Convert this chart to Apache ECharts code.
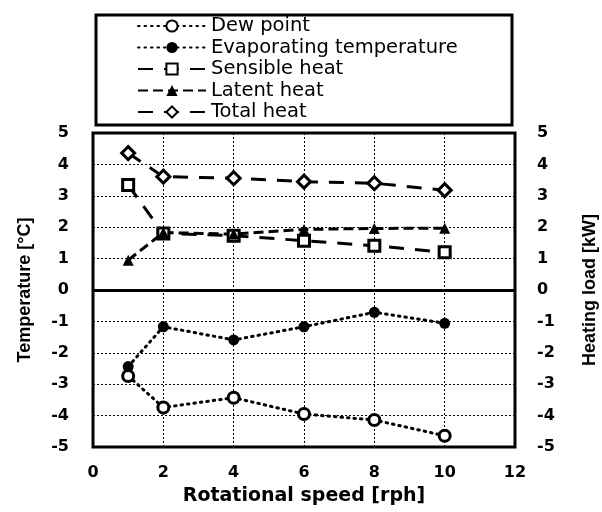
<!DOCTYPE html>
<html>
<head>
<meta charset="utf-8">
<script src="https://cdn.jsdelivr.net/npm/echarts@6/dist/echarts.min.js"></script>
<style>
  html, body { margin: 0; padding: 0; background: #fff; }
  #main { width: 602px; height: 512px; }
</style>
</head>
<body>
<div id="main"></div>
<script>
// rotational speed [rph]
const speeds = [1, 2, 4, 6, 8, 10]
// temperatures [°C]
const dewPoint = [-2.74, -3.74, -3.43, -3.95, -4.14, -4.64]
const evapTemp = [-2.44, -1.17, -1.59, -1.17, -0.71, -1.06]
// heating load [kW]
const sensibleHeat = [3.34, 1.80, 1.73, 1.57, 1.41, 1.20]
const latentHeat = [0.95, 1.83, 1.78, 1.93, 1.96, 1.97]
const totalHeat = [4.36, 3.61, 3.56, 3.45, 3.40, 3.18]

const seriesNames = ["Dew point", "Evaporating temperature", "Sensible heat", "Latent heat", "Total heat"]

const pairs = (ys) => speeds.map((x, i) => [x, ys[i]])

const tickFont = { fontFamily: "DejaVu Sans", fontWeight: "bold", fontSize: 16, color: "#000" }

var myChart = echarts.init(document.getElementById('main'))

var option = {
	animation: false,
	backgroundColor: "#fff",
	graphic: [{
		type: "rect",
		shape: { x: 96, y: 15, width: 416, height: 110 },
		style: { fill: "none", stroke: "#000", lineWidth: 3 }
	}],
	legend: {
		orient: "vertical",
		left: 137,
		top: 16,
		padding: 0,
		itemWidth: 68,
		itemHeight: 14,
		itemGap: 1.5,
		data: seriesNames,
		textStyle: { fontFamily: "DejaVu Sans", fontSize: 19.5, color: "#000" }
	},
	grid: {
		left: 93,
		right: 87,
		top: 133,
		bottom: 65,
		show: true,
		borderColor: "#000",
		borderWidth: 3,
		outerBoundsMode: "none",
		containLabel: false
	},
	xAxis: {
		type: "value",
		min: 0,
		max: 12,
		interval: 2,
		name: "Rotational speed [rph]",
		nameLocation: "middle",
		nameGap: 40,
		nameTextStyle: { fontFamily: "DejaVu Sans", fontWeight: "bold", fontSize: 19, color: "#000" },
		axisLine: { show: false, onZero: false },
		axisTick: { show: false },
		axisLabel: Object.assign({ margin: 18 }, tickFont),
		splitLine: { show: true, lineStyle: { color: "#000", width: 1, type: [2, 2] } }
	},
	yAxis: [{
		type: "value",
		min: -5,
		max: 5,
		interval: 1,
		name: "Temperature [°C]",
		nameLocation: "middle",
		nameGap: 59,
		nameTextStyle: { fontFamily: "Liberation Sans", fontWeight: "bold", fontSize: 18, color: "#000" },
		axisLine: { show: false },
		axisTick: { show: false },
		axisLabel: Object.assign({ margin: 24 }, tickFont),
		splitLine: { show: true, lineStyle: { color: "#000", width: 1, type: [2, 2] } }
	}, {
		type: "value",
		min: -5,
		max: 5,
		interval: 1,
		position: "right",
		name: "Heating load [kW]",
		nameLocation: "middle",
		nameGap: 66,
		nameRotate: 90,
		nameTextStyle: { fontFamily: "Liberation Sans", fontWeight: "bold", fontSize: 18, color: "#000" },
		axisLine: { show: false },
		axisTick: { show: false },
		axisLabel: Object.assign({ margin: 22 }, tickFont),
		splitLine: { show: false }
	}],
	series: [{
		name: "Dew point",
		type: "line",
		yAxisIndex: 0,
		data: pairs(dewPoint),
		symbol: "circle",
		symbolSize: 11,
		itemStyle: { color: "#fff", borderColor: "#000", borderWidth: 3 },
		lineStyle: { color: "#000", width: 3, type: [1.5, 5], cap: "round" },
		markLine: {
			silent: true,
			symbol: "none",
			label: { show: false },
			lineStyle: { color: "#000", width: 3, type: "solid" },
			data: [{ yAxis: 0 }]
		}
	}, {
		name: "Evaporating temperature",
		type: "line",
		yAxisIndex: 0,
		data: pairs(evapTemp),
		symbol: "circle",
		symbolSize: 11,
		itemStyle: { color: "#000", borderColor: "#000", borderWidth: 0 },
		lineStyle: { color: "#000", width: 3, type: [1.5, 5], cap: "round" }
	}, {
		name: "Sensible heat",
		type: "line",
		yAxisIndex: 1,
		data: pairs(sensibleHeat),
		symbol: "rect",
		symbolSize: 11,
		itemStyle: { color: "#fff", borderColor: "#000", borderWidth: 3 },
		lineStyle: { color: "#000", width: 3, type: [15, 11] }
	}, {
		name: "Latent heat",
		type: "line",
		yAxisIndex: 1,
		data: pairs(latentHeat),
		symbol: "triangle",
		symbolSize: 11,
		itemStyle: { color: "#000", borderColor: "#000", borderWidth: 0 },
		lineStyle: { color: "#000", width: 3, type: [10, 5] }
	}, {
		name: "Total heat",
		type: "line",
		yAxisIndex: 1,
		data: pairs(totalHeat),
		symbol: "diamond",
		symbolSize: 13,
		itemStyle: { color: "#fff", borderColor: "#000", borderWidth: 3 },
		lineStyle: { color: "#000", width: 3, type: [15, 11] }
	}]
}

myChart.setOption(option)
</script>
</body>
</html>
